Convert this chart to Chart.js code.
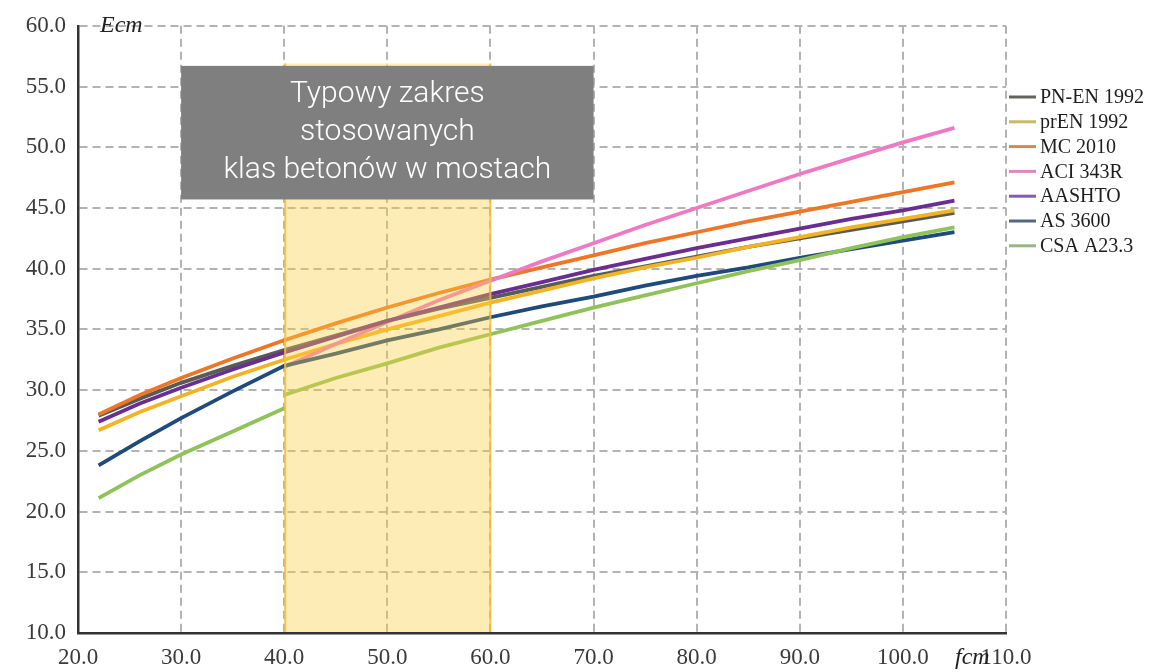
<!DOCTYPE html>
<html><head><meta charset="utf-8">
<script src="https://cdn.jsdelivr.net/npm/chart.js@4.4.1/dist/chart.umd.min.js"></script>
<style>html,body{margin:0;padding:0;background:#fff;}#wrap{width:1174px;height:672px;}</style>
</head><body><div id="wrap"><canvas id="c" width="1174" height="672"></canvas></div>
<script>
// ---- data (Ecm [GPa] vs fcm [MPa]) ----
const fcm     = [22, 26, 30, 35, 40, 45, 50, 55, 60, 65, 70, 75, 80, 85, 90, 95, 100, 105];
const pnEN    = [27.9, 29.3, 30.6, 32.0, 33.3, 34.5, 35.7, 36.7, 37.6, 38.5, 39.4, 40.2, 41.0, 41.8, 42.5, 43.2, 43.9, 44.6];
const prEN    = [26.7, 28.2, 29.5, 31.1, 32.5, 33.8, 35.0, 36.1, 37.2, 38.2, 39.2, 40.1, 40.9, 41.8, 42.6, 43.4, 44.1, 44.8];
const mc2010  = [28.0, 29.6, 31.0, 32.6, 34.1, 35.5, 36.8, 38.0, 39.1, 40.1, 41.1, 42.1, 43.0, 43.9, 44.7, 45.5, 46.3, 47.1];
const aci343  = [null, null, null, null, 31.9, 33.8, 35.6, 37.4, 39.0, 40.6, 42.1, 43.6, 45.0, 46.4, 47.8, 49.1, 50.4, 51.6];
const aashto  = [27.4, 28.9, 30.2, 31.7, 33.1, 34.4, 35.7, 36.8, 37.9, 38.9, 39.9, 40.8, 41.7, 42.5, 43.3, 44.1, 44.8, 45.6];
const as3600  = [23.8, 25.8, 27.7, 29.9, 32.0, 33.0, 34.1, 35.0, 36.0, 36.9, 37.7, 38.6, 39.4, 40.1, 40.9, 41.6, 42.3, 43.0];
const fcmCSA  = [22, 26, 30, 35, 40, 40, 40, 45, 50, 55, 60, 65, 70, 75, 80, 85, 90, 95, 100, 105];
const csa     = [21.1, 23.0, 24.7, 26.6, 28.5, null, 29.6, 31.0, 32.2, 33.5, 34.6, 35.7, 36.8, 37.8, 38.8, 39.8, 40.7, 41.7, 42.6, 43.4];

const seriesNames  = ['PN-EN 1992', 'prEN 1992', 'MC 2010', 'ACI 343R', 'AASHTO', 'AS 3600', 'CSA A23.3'];
const lineColors   = ['#585c57', '#f2b325', '#ee7626', '#ee7ac4', '#6a2d91', '#1f4a7c', '#8fc35a'];
const legendColors = ['#62655f', '#cbb865', '#d48a4c', '#d98cba', '#805ea8', '#59657f', '#9cb481'];

const xTicks = [20, 30, 40, 50, 60, 70, 80, 90, 100, 110];
const yTicks = [10, 15, 20, 25, 30, 35, 40, 45, 50, 55, 60];

const bandRange = [40, 60];
const bandTop = 56.9;
const boxRangeX = [30, 70];
const boxRangeY = [45.7, 56.7];
const boxLines = ['Typowy zakres', 'stosowanych', 'klas betonów w mostach'];
const yTitle = 'Ecm';
const xTitle = 'fcm';

// ---- build ----
const pts = (xs, ys) => xs.map((v, i) => ({x: v, y: ys[i]}));
const seriesData = [pts(fcm, pnEN), pts(fcm, prEN), pts(fcm, mc2010), pts(fcm, aci343), pts(fcm, aashto), pts(fcm, as3600), pts(fcmCSA, csa)];

const datasets = seriesData.map((d, i) => ({
  label: seriesNames[i],
  data: d,
  borderColor: lineColors[i],
  backgroundColor: lineColors[i],
  borderWidth: 3.8,
  pointRadius: 0,
  tension: 0,
  spanGaps: false,
  order: seriesNames.length - i
}));

const SERIF = "'Liberation Serif', 'Times New Roman', serif";

const overlay = {
  id: 'overlay',
  afterDatasetsDraw(chart) {
    const {ctx, scales: {x, y}} = chart;
    const bx1 = x.getPixelForValue(bandRange[0]), bx2 = x.getPixelForValue(bandRange[1]);
    const by1 = y.getPixelForValue(bandTop), by2 = y.getPixelForValue(yTicks[0]);
    ctx.save();
    ctx.fillStyle = 'rgba(252,204,62,0.38)';
    ctx.fillRect(bx1, by1, bx2 - bx1, by2 - by1);
    ctx.strokeStyle = 'rgba(238,190,60,0.85)';
    ctx.lineWidth = 2;
    ctx.beginPath();
    ctx.moveTo(bx1 + 1, by1); ctx.lineTo(bx1 + 1, by2);
    ctx.moveTo(bx2, by1); ctx.lineTo(bx2, by2);
    ctx.stroke();
    // annotation box
    const gx1 = x.getPixelForValue(boxRangeX[0]), gx2 = x.getPixelForValue(boxRangeX[1]);
    const gy1 = y.getPixelForValue(boxRangeY[1]), gy2 = y.getPixelForValue(boxRangeY[0]);
    ctx.fillStyle = '#7f7f7f';
    ctx.fillRect(gx1, gy1, gx2 - gx1, gy2 - gy1);
    ctx.fillStyle = '#ffffff';
    ctx.font = "300 30px Roboto, 'Noto Sans', sans-serif";
    ctx.textAlign = 'center';
    ctx.textBaseline = 'middle';
    const cx = (gx1 + gx2) / 2, cy = (gy1 + gy2) / 2;
    const lh = 38;
    boxLines.forEach((t, i) => ctx.fillText(t, cx, cy + (i - 1) * lh));
    ctx.restore();
  },
  afterDraw(chart) {
    const {ctx, chartArea: a} = chart;
    ctx.save();
    // axis titles
    ctx.fillStyle = '#222';
    ctx.font = 'italic 24px ' + SERIF;
    ctx.textBaseline = 'middle';
    ctx.textAlign = 'left';
    ctx.fillText(yTitle, a.left + 22, a.top);
    ctx.fillText(xTitle, a.right - 51, a.bottom + 25);
    // legend
    ctx.font = '20px ' + SERIF;
    const lx = a.right + 3, ly0 = 97, step = 24.8;
    seriesNames.forEach((n, i) => {
      const yy = ly0 + i * step;
      ctx.strokeStyle = legendColors[i];
      ctx.lineWidth = 3;
      ctx.beginPath(); ctx.moveTo(lx, yy); ctx.lineTo(lx + 27, yy); ctx.stroke();
      ctx.fillStyle = '#1e1e1e';
      ctx.fillText(n, lx + 31, yy + 1);
    });
    ctx.restore();
  }
};

new Chart(document.getElementById('c'), {
  type: 'line',
  data: {datasets},
  plugins: [overlay],
  options: {
    responsive: false,
    animation: false,
    layout: {padding: {left: 0, right: 168, top: 22, bottom: 0}},
    plugins: {legend: {display: false}, tooltip: {enabled: false}},
    scales: {
      x: {
        type: 'linear', min: xTicks[0], max: xTicks[xTicks.length - 1],
        afterBuildTicks: s => { s.ticks = xTicks.map(v => ({value: v})); },
        afterFit: s => { s.height = 39; },
        ticks: {callback: v => v.toFixed(1), color: '#3a3a3a', font: {family: SERIF, size: 23}, padding: 11, maxRotation: 0, autoSkip: false},
        grid: {color: '#b3b3b3', lineWidth: 2, drawTicks: false},
        border: {display: true, color: '#333333', width: 2.5, dash: [8, 5], z: 1}
      },
      y: {
        type: 'linear', min: yTicks[0], max: yTicks[yTicks.length - 1],
        afterBuildTicks: s => { s.ticks = yTicks.map(v => ({value: v})); },
        afterFit: s => { s.width = 78; },
        ticks: {callback: v => v.toFixed(1), color: '#3a3a3a', font: {family: SERIF, size: 23}, padding: 12},
        grid: {color: '#b3b3b3', lineWidth: 2, drawTicks: false},
        border: {display: true, color: '#333333', width: 2.5, dash: [8, 5], z: 1}
      }
    }
  }
});
</script></body></html>
